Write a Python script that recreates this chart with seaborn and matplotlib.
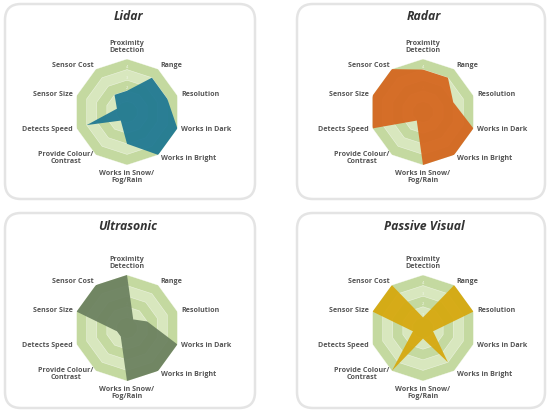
import numpy as np
import matplotlib
matplotlib.use("Agg")
import matplotlib.pyplot as plt
from matplotlib.patches import FancyBboxPatch
import seaborn as sns

# Data (scale 0-5)
categories = ["Proximity\nDetection", "Range", "Resolution", "Works in Dark",
              "Works in Bright", "Works in Snow/\nFog/Rain", "Provide Colour/\nContrast",
              "Detects Speed", "Sensor Size", "Sensor Cost"]
lidar = [2, 4, 4, 5, 5, 3, 1, 4, 1, 2]
radar = [4, 4, 3, 5, 5, 5, 1, 5, 5, 5]
ultrasonic = [5, 1, 2, 5, 5, 5, 1, 1, 5, 5]
passive_visual = [1, 5, 5, 1, 4, 1, 5, 1, 5, 5]
titles = ["Lidar", "Radar", "Ultrasonic", "Passive Visual"]
levels = [1, 2, 3, 4, 5]

sns.set_theme(style="white")
plt.rcParams['font.family'] = ['Open Sans', 'DejaVu Sans']

W, H = 550, 413
fig = plt.figure(figsize=(W / 100, H / 100), dpi=100)

# background axes in pixel units for frames and titles
bg = fig.add_axes([0, 0, 1, 1], zorder=0)
bg.set_xlim(0, W)
bg.set_ylim(H, 0)
bg.axis("off")

panels = [
    (titles[0], lidar, "#1f7892", (127, 112), (5, 4, 250, 195)),
    (titles[1], radar, "#d5661f", (423, 112), (297, 4, 248, 195)),
    (titles[2], ultrasonic, "#6c8160", (127, 328), (5, 213, 250, 195)),
    (titles[3], passive_visual, "#d6a80e", (423, 328), (297, 213, 248, 195)),
]

n = len(categories)
theta = np.linspace(0, 2 * np.pi, n, endpoint=False)
theta_c = np.append(theta, theta[0])
band_colors = ["#c4d9a0", "#d8e7be"]
R_PX = 53

for title, vals, color, (cx, cy), (fx, fy, fw, fh) in panels:
    frame = FancyBboxPatch((fx, fy), fw, fh, boxstyle="round,pad=0,rounding_size=16",
                           facecolor="white", edgecolor="#e4e4e4", lw=1.8)
    bg.add_patch(frame)
    bg.text(cx + 1, fy + 13, title, ha="center", va="center", fontsize=8.8,
            fontweight="bold", fontstyle="italic", color="#333333")

    ax = fig.add_axes([(cx - R_PX) / W, 1 - (cy + R_PX) / H, 2 * R_PX / W, 2 * R_PX / H],
                      projection="polar", zorder=2)
    ax.set_theta_zero_location("N")
    ax.set_theta_direction(-1)
    ax.set_ylim(0, levels[-1])
    ax.set_facecolor("none")
    ax.grid(False)
    ax.spines["polar"].set_visible(False)
    ax.set_xticks([])
    ax.set_yticks([])

    # decagon bands
    for i, lv in enumerate(levels[::-1]):
        ax.fill(theta_c, [lv] * (n + 1), color=band_colors[i % 2], lw=0, zorder=1)
        ax.plot(theta_c, [lv] * (n + 1), color="white", lw=0.4, alpha=0.6, zorder=1.5)
    for lv in levels[:-1]:
        ax.text(0, lv + 0.25, str(lv), fontsize=3, color="#f2f7ea", ha="center",
                va="center", zorder=1.6)

    v = list(vals) + [vals[0]]
    ax.fill(theta_c, v, color=color, alpha=0.94, lw=0, zorder=3)

    for t, lab in zip(theta, categories):
        s = np.sin(t)
        c = np.cos(t)
        if s > 0.1:
            ha = "left"
        elif s < -0.1:
            ha = "right"
        else:
            ha = "center"
        if c > 0.9:
            va, r = "bottom", 5.45
        elif c < -0.9:
            va, r = "top", 5.45
        else:
            va, r = "center", 5.4
        ax.text(t, r, lab, ha=ha, va=va, fontsize=5.1, fontweight="bold",
                color="#555555", linespacing=1.05, multialignment="center", zorder=4)

fig.savefig("out.png", dpi=100)
